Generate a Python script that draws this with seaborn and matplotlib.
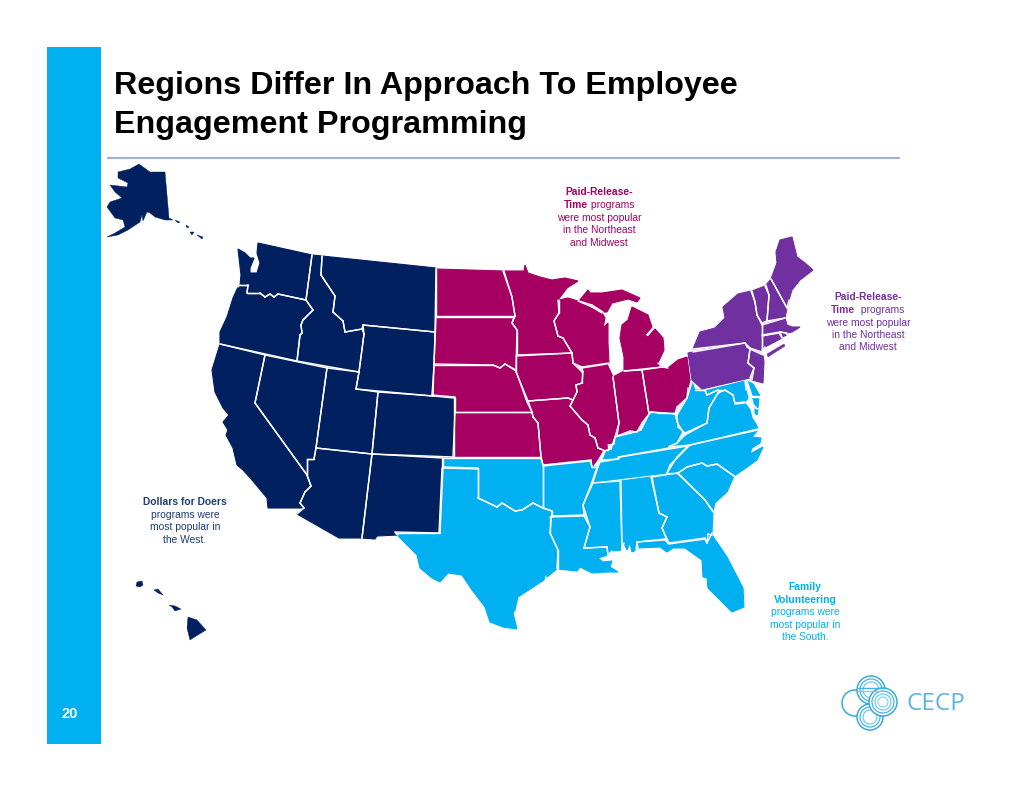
import matplotlib
matplotlib.use("Agg")
import matplotlib.pyplot as plt
from matplotlib.patches import Circle, Rectangle
from matplotlib.path import Path
import pandas as pd
import seaborn as sns

sns.set_theme(style="white")
plt.rcParams["font.family"] = ["Liberation Sans", "DejaVu Sans"]

NAVY, CRIMSON, PURPLE, SKY = "#002060", "#A50062", "#7030A0", "#00B0F0"

TITLE_LINES = ["Regions Differ In Approach To Employee", "Engagement Programming"]
PAGE_NUMBER = "20"
LOGO_TEXT = "CECP"

# State outlines (x, y in image pixels)
WA = [(258,243),(312,255),(306,300),(278,294),(274,297),(270,294),(265,297),(260,293),(247,293),(248,285),(240,285),(241,275),(238,249),(245,253),(250,258),(254,258),(250,268),(250,273),(257,273),(260,263),(257,253)]
OR = [(240,285),(248,285),(247,293),(260,293),(265,297),(270,294),(274,297),(278,294),(306,300),(313,310),(303,320),(301,325),(302,333),(300,335),(297,361),(220,344),(220,332),(227,317),(233,298),(238,287)]
CA = [(220,344),(265,355),(255,403),(307,475),(311,486),(305,492),(300,503),(304,508),(268,508),(267,498),(252,480),(243,470),(237,465),(233,448),(226,435),(228,430),(223,422),(229,415),(223,408),(215,392),(212,370)]
NV = [(265,355),(327,368),(316,448),(314,459),(307,459),(307,475),(255,403)]
ID = [(312,255),(322,256),(321,275),(335,296),(333,312),(343,321),(345,332),(362,329),(364,334),(359,372),(297,361),(300,335),(302,333),(301,325),(303,320),(313,310),(306,300)]
MT = [(322,256),(436,268),(435,332),(363,325),(362,329),(345,332),(343,321),(333,312),(335,296),(321,275)]
WY = [(363,325),(435,332),(433,396),(356,389),(359,372),(364,334)]
UT = [(327,368),(359,372),(356,389),(378,392),(372,454),(316,448)]
CO = [(378,392),(433,396),(454,398),(454,457),(372,454)]
AZ = [(316,448),(372,454),(362,538),(339,538),(297,514),(304,508),(300,503),(305,492),(311,486),(307,475),(307,459),(314,459)]
NM = [(372,454),(442,458),(442,468),(439,533),(395,532),(398,535),(377,536),(375,539),(362,538)]
AK = [(118,172),(130,169),(139,164),(150,172),(165,172),(169,218),(173,220),(165,220),(155,217),(150,213),(147,212),(143,221),(142,215),(140,222),(128,230),(118,235),(107,237),(115,233),(125,227),(123,220),(115,218),(107,207),(110,202),(122,198),(115,192),(110,185),(127,187),(128,183),(118,178)]
AK2 = [(175,220),(180,222),(178,223)]
AK3 = [(186,225),(189,227),(187,228)]
AK4 = [(190,232),(194,232),(192,235)]
AK5 = [(197,235),(203,237),(202,239)]
HI1 = [(188,617),(197,620),(206,630),(193,638),(190,640),(187,628)]
HI2 = [(137,582),(142,581),(143,585),(140,587),(136,586)]
HI3 = [(154,590),(158,589),(163,595),(158,593)]
HI4 = [(169,605),(175,606),(181,609),(175,611),(172,607)]

ND = [(436,269),(503,271),(512,297),(515,316),(436,316)]
SD = [(436,317),(514,317),(512,323),(517,330),(516,370),(505,364),(500,368),(493,365),(434,364)]
NE = [(434,365),(493,365),(500,368),(505,364),(516,371),(527,402),(532,412),(455,412),(455,397),(432,395)]
KS = [(455,412),(532,412),(533,417),(538,423),(541,457),(453,457)]
MN = [(504,271),(524,271),(525,265),(528,273),(540,277),(552,280),(565,278),(578,281),(567,288),(558,300),(559,313),(554,321),(558,336),(563,338),(572,353),(517,355),(517,330),(512,323),(515,316),(512,297)]
IA = [(516,356),(572,353),(573,363),(582,372),(582,383),(576,385),(577,392),(573,400),(568,398),(528,401),(516,372)]
MO = [(528,401),(568,398),(573,400),(570,406),(582,420),(588,425),(590,435),(595,438),(598,448),(603,450),(597,460),(592,467),(591,460),(543,465),(541,457),(538,423),(533,417),(532,412)]
WI = [(559,300),(568,298),(578,301),(592,307),(602,313),(605,318),(603,328),(608,323),(608,343),(609,363),(582,367),(573,363),(572,353),(563,338),(558,336),(554,321),(559,313)]
MI1 = [(579,301),(588,290),(590,293),(602,293),(622,290),(640,298),(637,302),(628,299),(612,303),(607,312),(603,312),(592,305)]
MI2 = [(632,307),(648,315),(652,327),(645,335),(648,337),(655,329),(663,338),(664,350),(658,363),(662,367),(624,371),(624,357),(620,338),(622,325),(628,320)]
IL = [(582,368),(607,364),(613,377),(619,423),(615,437),(614,444),(608,445),(608,450),(603,450),(598,448),(595,438),(590,435),(588,425),(582,420),(570,406),(577,392),(576,385),(582,383),(583,372)]
IN = [(613,377),(624,371),(642,370),(649,414),(642,423),(637,432),(630,431),(617,436),(619,423)]
OH = [(642,370),(662,367),(668,368),(678,360),(687,357),(690,380),(688,388),(687,398),(677,407),(675,414),(665,413),(652,412),(649,414)]

PA = [(688,353),(693,352),(745,343),(747,347),(750,349),(748,363),(754,368),(750,378),(702,389),(692,380)]
NY = [(693,349),(700,332),(715,328),(725,318),(723,307),(738,294),(751,291),(755,302),(757,315),(762,325),(762,352),(750,348),(745,343)]
LI = [(767,354),(784,344),(785,346),(768,357)]
NJ = [(750,349),(763,355),(764,362),(763,383),(752,380),(754,368),(748,363)]
VT = [(752,291),(765,286),(769,295),(767,321),(762,323),(757,315),(755,302)]
NH = [(766,285),(771,279),(787,308),(785,318),(767,321),(769,295)]
ME = [(771,279),(777,263),(776,252),(780,240),(792,237),(797,257),(805,263),(813,270),(800,280),(792,290),(789,300),(787,308)]
MA = [(762,325),(785,318),(787,325),(792,327),(797,327),(800,327),(797,329),(792,332),(787,333),(780,332),(762,335)]
CT = [(762,336),(779,333),(782,338),(765,347),(762,350)]
RI = [(780,332),(786,333),(787,335),(782,337)]

OK = [(443,458),(541,458),(543,465),(543,508),(533,503),(522,510),(515,511),(502,503),(497,507),(478,498),(478,468),(443,467)]
TX = [(443,468),(478,469),(478,498),(497,507),(502,503),(515,511),(522,510),(533,503),(543,508),(552,511),(550,533),(558,550),(557,569),(547,577),(546,572),(544,580),(518,597),(515,610),(513,613),(517,629),(503,627),(490,622),(485,607),(472,590),(462,575),(448,573),(440,582),(432,578),(420,568),(417,555),(395,533),(440,533)]
AR = [(543,466),(590,461),(592,467),(597,467),(592,482),(583,505),(584,515),(552,516),(552,511),(543,508)]
LA = [(550,517),(584,516),(590,527),(584,548),(607,547),(608,555),(598,558),(603,562),(612,561),(610,567),(618,572),(607,572),(592,573),(580,567),(577,571),(558,569),(558,550),(550,533)]
MS = [(593,483),(620,481),(622,550),(612,551),(608,555),(607,547),(584,548),(590,527),(583,505)]
AL = [(621,481),(651,477),(659,513),(667,517),(662,528),(668,543),(665,539),(637,542),(636,550),(632,552),(630,543),(627,550),(624,543),(622,550)]
GA = [(652,477),(677,473),(705,500),(713,512),(712,533),(707,543),(705,538),(669,543),(662,528),(667,517),(659,513)]
FL = [(637,542),(665,540),(669,544),(705,539),(707,543),(708,534),(712,535),(727,557),(743,588),(744,607),(732,612),(723,603),(708,588),(707,578),(703,577),(702,560),(685,548),(673,548),(667,552),(660,547),(638,548)]
SC = [(678,473),(687,467),(702,463),(707,466),(717,464),(734,476),(727,492),(718,500),(715,503),(713,511),(705,500)]
NC = [(667,473),(670,465),(690,445),(758,430),(752,437),(761,438),(760,443),(752,448),(750,454),(763,447),(757,460),(743,470),(734,476),(717,464),(707,466),(702,463),(687,467),(678,473)]
TN = [(598,467),(600,462),(618,459),(620,457),(688,446),(677,457),(667,473),(593,482)]
KY = [(603,460),(607,450),(611,449),(615,437),(635,432),(641,430),(650,412),(658,413),(675,413),(677,422),(683,432),(677,443),(670,446),(669,448),(618,457),(618,459)]
VA = [(669,447),(677,443),(685,435),(707,423),(709,408),(718,393),(725,390),(733,395),(735,404),(745,403),(750,410),(752,418),(756,424),(758,429),(690,445)]
WV = [(677,415),(687,398),(692,382),(695,390),(705,390),(707,395),(718,390),(718,393),(709,408),(707,423),(685,433),(678,427)]
MD = [(705,391),(745,381),(746,390),(748,398),(745,402),(735,403),(733,395),(725,390),(718,390),(707,395)]
DE = [(747,381),(753,384),(760,396),(752,396)]
MD2 = [(747,385),(752,397),(759,397),(758,408),(753,402),(749,393)]
VA2 = [(755,408),(758,409),(757,415),(755,413)]

REGIONS = {
    NAVY: dict(WA=WA, OR=OR, CA=CA, NV=NV, ID=ID, MT=MT, WY=WY, UT=UT, CO=CO, AZ=AZ, NM=NM),
    CRIMSON: dict(ND=ND, SD=SD, NE=NE, KS=KS, MN=MN, IA=IA, MO=MO, WI=WI, MI1=MI1, MI2=MI2, IL=IL, IN=IN, OH=OH),
    PURPLE: dict(PA=PA, NY=NY, NJ=NJ, VT=VT, NH=NH, ME=ME, MA=MA, CT=CT, RI=RI),
    SKY: dict(OK=OK, TX=TX, AR=AR, LA=LA, MS=MS, AL=AL, GA=GA, FL=FL, SC=SC, NC=NC, TN=TN, KY=KY, VA=VA, WV=WV, MD=MD, DE=DE, MD2=MD2, VA2=VA2),
}
NO_BORDER = {NAVY: dict(AK=AK, AK2=AK2, AK3=AK3, AK4=AK4, AK5=AK5, HI1=HI1, HI2=HI2, HI3=HI3, HI4=HI4),
             PURPLE: dict(LI=LI)}

# Annotation blocks: each line is a list of (text, bold) runs
NOTE_PAID = [[("Paid-Release-", True)], [("Time", True), (" programs", False)], [("were most popular", False)], [("in the Northeast", False)], [("and Midwest", False)]]
NOTE_PAID2 = [[("Paid-Release-", True)], [("Time", True), ("  programs", False)], [("were most popular", False)], [("in the Northeast", False)], [("and Midwest", False)]]
NOTE_WEST = [[("Dollars for Doers", True)], [("programs were", False)], [("most popular in", False)], [("the West.", False)]]
NOTE_SOUTH = [[("Family", True)], [("Volunteering", True)], [("programs were", False)], [("most popular in", False)], [("the South.", False)]]

fig = plt.figure(figsize=(10.24, 7.92), dpi=100, facecolor="white")
ax = fig.add_axes([0, 0, 1, 1])

# Slide furniture
ax.add_patch(Rectangle((47, 47), 54, 697, color=SKY, lw=0, zorder=1))
ax.plot([108, 899], [158, 158], color="#9FB1D0", lw=1.6, zorder=1)
for y, line in zip([94, 133], TITLE_LINES):
    ax.text(114, y, line, fontsize=23.2, fontweight="bold", color="#000000", va="baseline", ha="left", zorder=5)
ax.text(69.5, 714, PAGE_NUMBER, fontsize=10.5, fontweight="bold", color="white", ha="center", va="center", zorder=5)

# Map: fills, then white borders only along edges that touch a neighbouring state
all_states = {n: p for states in REGIONS.values() for n, p in states.items()}
paths = {n: Path(p + [p[0]]) for n, p in all_states.items()}
rows = []
for color, states in REGIONS.items():
    for name, pts in states.items():
        ax.fill([p[0] for p in pts], [p[1] for p in pts], color=color, ec=color, lw=0.8, zorder=2)
        closed = pts + [pts[0]]
        for i, (a, b) in enumerate(zip(closed[:-1], closed[1:])):
            probes = [(a[0] * (1 - t) + b[0] * t, a[1] * (1 - t) + b[1] * t) for t in (0.25, 0.5, 0.75)]
            shared = any(other != name and any(pth.contains_point(q, radius=r) for r in (3.0, -3.0))
                         for q in probes for other, pth in paths.items())
            if shared:
                seg = f"{name}{i}"
                rows.append(dict(seg=seg, order=0, x=a[0], y=a[1]))
                rows.append(dict(seg=seg, order=1, x=b[0], y=b[1]))
for color, states in NO_BORDER.items():
    for name, pts in states.items():
        ax.fill([p[0] for p in pts], [p[1] for p in pts], color=color, lw=0.3, ec=color, zorder=2)
outline = pd.DataFrame(rows)
sns.lineplot(data=outline, x="x", y="y", units="seg", estimator=None, sort=False,
             color="white", linewidth=1.0, ax=ax, legend=False, zorder=3)
ax.set_xlim(0, 1024)
ax.set_ylim(792, 0)
ax.axis("off")

# Notes
fig.canvas.draw()
renderer = fig.canvas.get_renderer()
def note(lines, cx, ys, color, size=7.4):
    for runs, y in zip(lines, ys):
        items = [ax.text(0, y, t, fontsize=size, color=color, fontweight="bold" if b else "normal",
                         va="center", ha="left", zorder=5) for t, b in runs]
        widths = [i.get_window_extent(renderer).width for i in items]
        x = cx - sum(widths) / 2
        for it, w in zip(items, widths):
            it.set_x(x)
            x += w

note(NOTE_PAID, 599, [192, 205, 218, 230, 243], CRIMSON)
note(NOTE_PAID2, 868, [297, 310, 323, 335, 347], PURPLE)
note(NOTE_WEST, 185, [502, 515, 527, 540], "#1F3A7A")
note(NOTE_SOUTH, 805, [587, 600, 612, 625, 637], SKY)

# Logo: overlapping concentric rings
LOGO_RINGS_X = [855, 871, 870, 883]
LOGO_RINGS_Y = [703, 690, 717, 702]
LOGO_RINGS_R = [13, 14, 13, 14]
LOGO_RING_COUNT = [1, 3, 3, 4]
LOGO_SHADES = ["#3BA9D6", "#45B5DE", "#6CCBE9", "#8AD6EE"]
for cx, cy, r, n in zip(LOGO_RINGS_X, LOGO_RINGS_Y, LOGO_RINGS_R, LOGO_RING_COUNT):
    ax.add_patch(Circle((cx, cy), r, fc="white" if n > 1 else "none", ec=LOGO_SHADES[0], lw=1.1, zorder=4))
    for k in range(1, n):
        ax.add_patch(Circle((cx, cy), r - 3 * k, fill=False, ec=LOGO_SHADES[k], lw=0.9, zorder=4))
ax.plot([858, 884], [688, 688], color="#45B5DE", lw=1.0, zorder=4)
ax.plot([858, 884], [691, 691], color="#6CCBE9", lw=0.8, zorder=4)
ax.text(907, 703.5, LOGO_TEXT, fontsize=17.5, color="#5BB5DC", va="center", ha="left", family=["Open Sans", "DejaVu Sans"], zorder=5)

fig.savefig("out.png", dpi=100)
